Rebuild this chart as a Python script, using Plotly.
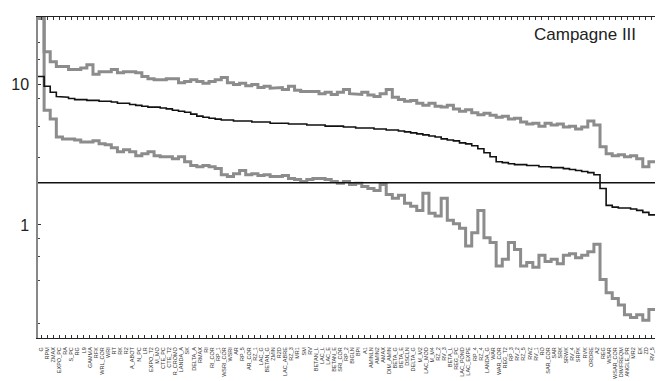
import math
import plotly.graph_objects as go

# Variable names along the x axis (ranked by median value)
variables = [
    "G", "RPM", "ZMAX", "EXPO_PC", "RA", "S_PC", "RG", "L9", "GAMMA", "RFK",
    "WRL_COR", "WRI", "RT", "RK", "R2", "A_ABOT", "N_PC", "LR", "EXPO_T2", "M_MO",
    "CTE_PC", "CTE_T2", "R_CROMO", "LANDA_A", "SK", "DELTA_A", "RMAX", "RI", "RI_COR", "RP_1",
    "WSRI_COR", "WSRI", "AR", "RP_5", "AR_COR", "RZ_1", "LAC_G", "BETAN_G", "ZMIN", "R2D",
    "LAC_ABRE", "RZ_3", "MR1", "SM", "RV", "BETAN_L", "LAC_L", "LAC_E", "BETAN_E", "SRI_COR",
    "RP_2", "BIGLN", "BPI", "A1", "AMINLN", "AMIN2", "AMAX", "DIM_AMIN", "BETA_G", "BETA_E",
    "DSCLN", "DELTA_G", "M_M2", "LAC_MOD", "M_M4", "RZ_2", "RV_3", "BETA_L", "REG_PC", "LAC_POND",
    "LAC_EXPE", "RP_4", "RZ_4", "LANDA_G", "WAR", "WAR_COR", "REG_T2", "RP_3", "RV_2", "RZ_5",
    "RWZ", "RV_1", "RO", "SAR_COR", "SAR", "SRK", "SRWK", "RV_4", "SRPK", "RVK",
    "ORDRE", "A2", "REG", "WSAR", "WSAR_COR", "DIMFREQM", "ANGLE_PR", "MR2", "EK", "ZD",
    "RV_5",
]

# Upper envelope
upper = [
    31, 17.1, 14.5, 13.4, 13.4, 12.8, 12.8, 13.1, 13.8, 11.8,
    12.3, 12.3, 12.8, 12.1, 12.3, 12.3, 12.1, 11.4, 11.0, 10.8,
    10.8, 11.0, 11.0, 10.3, 10.5, 10.8, 10.5, 10.2, 10.5, 10.8,
    11.2, 10.3, 10.0, 10.2, 9.8, 10.0, 9.5, 9.7, 9.4, 9.5,
    9.2, 9.7, 9.1, 8.9, 8.8, 8.9, 8.6, 8.8, 8.5, 8.8,
    9.2, 8.6, 8.5, 8.8, 8.4, 8.2, 8.6, 9.2, 8.1, 7.8,
    7.6, 7.7, 7.35, 7.1, 7.35, 7.0, 6.9, 7.1, 6.7, 6.45,
    6.6, 6.3, 6.1, 6.25, 6.05, 5.85, 5.95, 5.67, 5.75, 5.4,
    5.23, 5.3, 5.05, 5.3, 5.15, 5.23, 4.98, 5.05, 4.82, 4.98,
    5.49, 5.15, 3.6, 3.21, 3.11, 3.16, 3.06, 3.11, 2.96, 2.6,
    2.82,
]

# Median
median = [
    11.4, 9.7, 8.8, 8.2, 8.1, 7.95, 7.8, 7.8, 7.7, 7.7,
    7.6, 7.6, 7.5, 7.35, 7.35, 7.2, 7.1, 7.0, 6.9, 6.9,
    6.8, 6.7, 6.55, 6.45, 6.35, 6.15, 5.95, 5.85, 5.75, 5.67,
    5.58, 5.58, 5.49, 5.49, 5.49, 5.4, 5.4, 5.4, 5.3, 5.3,
    5.3, 5.23, 5.23, 5.23, 5.15, 5.15, 5.15, 5.05, 5.05, 5.05,
    4.98, 4.98, 4.9, 4.9, 4.9, 4.82, 4.82, 4.74, 4.74, 4.67,
    4.6, 4.52, 4.45, 4.38, 4.3, 4.23, 4.1, 4.03, 3.97, 3.84,
    3.78, 3.66, 3.49, 3.27, 3.06, 2.82, 2.78, 2.73, 2.69, 2.69,
    2.65, 2.65, 2.6, 2.6, 2.56, 2.56, 2.52, 2.48, 2.44, 2.40,
    2.36, 2.28, 1.82, 1.38, 1.34, 1.32, 1.32, 1.30, 1.27, 1.23,
    1.18,
]

# Lower envelope
lower = [
    29.5, 6.55, 5.67, 4.23, 4.1, 4.1, 4.03, 3.9, 3.9, 3.97,
    3.78, 3.72, 3.54, 3.32, 3.43, 3.32, 3.11, 3.21, 3.32, 3.11,
    3.06, 3.06, 2.96, 3.06, 2.82, 2.65, 2.6, 2.65, 2.6, 2.52,
    2.28, 2.21, 2.32, 2.44, 2.28, 2.32, 2.25, 2.28, 2.21, 2.21,
    2.25, 2.14, 2.11, 2.04, 2.11, 2.14, 2.14, 2.11, 2.04, 1.98,
    2.04, 1.94, 1.98, 1.88, 1.82, 1.76, 1.94, 1.65, 1.55, 1.63,
    1.43, 1.36, 1.27, 1.68, 1.21, 1.16, 1.55, 1.08, 1.02, 0.95,
    0.71, 0.88, 1.27, 0.81, 0.75, 0.51, 0.57, 0.75, 0.67, 0.51,
    0.54, 0.50, 0.61, 0.55, 0.57, 0.53, 0.61, 0.625, 0.585, 0.61,
    0.645, 0.73, 0.41, 0.33, 0.30, 0.27, 0.23, 0.22, 0.23, 0.21,
    0.25,
]

threshold = 2.0
title_text = "Campagne III"


def step_path(values):
    """Each value spans its whole category slot, like a histogram outline."""
    xs, ys = [], []
    for i, v in enumerate(values):
        xs += [i - 0.5, i + 0.5]
        ys += [v, v]
    return xs, ys


GRAY = "#8c8c8c"
fig = go.Figure()

for vals, color, width in [(upper, GRAY, 3), (lower, GRAY, 3), (median, "#111111", 1.6)]:
    xs, ys = step_path(vals)
    fig.add_trace(go.Scatter(x=xs, y=ys, mode="lines",
                             line=dict(color=color, width=width),
                             hoverinfo="skip", showlegend=False))

fig.add_shape(type="line", xref="paper", yref="y", x0=0, x1=1,
              y0=threshold, y1=threshold,
              line=dict(color="#111111", width=1.6))

fig.add_annotation(text=title_text, xref="paper", yref="paper",
                   x=0.972, y=0.945, xanchor="right", yanchor="middle",
                   showarrow=False,
                   font=dict(family="Liberation Sans, Arial", size=17, color="#222222"))

n = len(variables)
fig.update_layout(
    width=657, height=381,
    margin=dict(l=38, r=2, t=17, b=40),
    paper_bgcolor="white", plot_bgcolor="white",
    xaxis=dict(
        range=[-0.5, n - 0.5],
        tickmode="array", tickvals=list(range(n)), ticktext=variables,
        tickangle=-90,
        tickfont=dict(family="Liberation Sans, Arial", size=5.5, color="#333333"),
        ticks="inside", ticklen=3, tickcolor="#333333", tickwidth=1,
        ticklabelstandoff=6,
        showline=True, linecolor="#222222", linewidth=1, mirror="ticks",
        showgrid=False, zeroline=False,
    ),
    yaxis=dict(
        type="log",
        range=[math.log10(0.157), math.log10(30.2)],
        tickmode="array", tickvals=[1, 10], ticktext=["1", "10"],
        tickfont=dict(family="Liberation Sans, Arial", size=16, color="#222222"),
        ticks="inside", ticklen=3, tickcolor="#333333",
        ticklabelstandoff=4,
        minor=dict(tickmode="array",
                   tickvals=[0.2, 0.4, 0.6, 0.8, 3, 5, 8, 15, 20],
                   ticks="inside", ticklen=2, tickcolor="#444444", showgrid=False),
        showline=True, linecolor="#888888", linewidth=1.5,
        showgrid=False, zeroline=False,
    ),
)

fig.write_html("out.html")
